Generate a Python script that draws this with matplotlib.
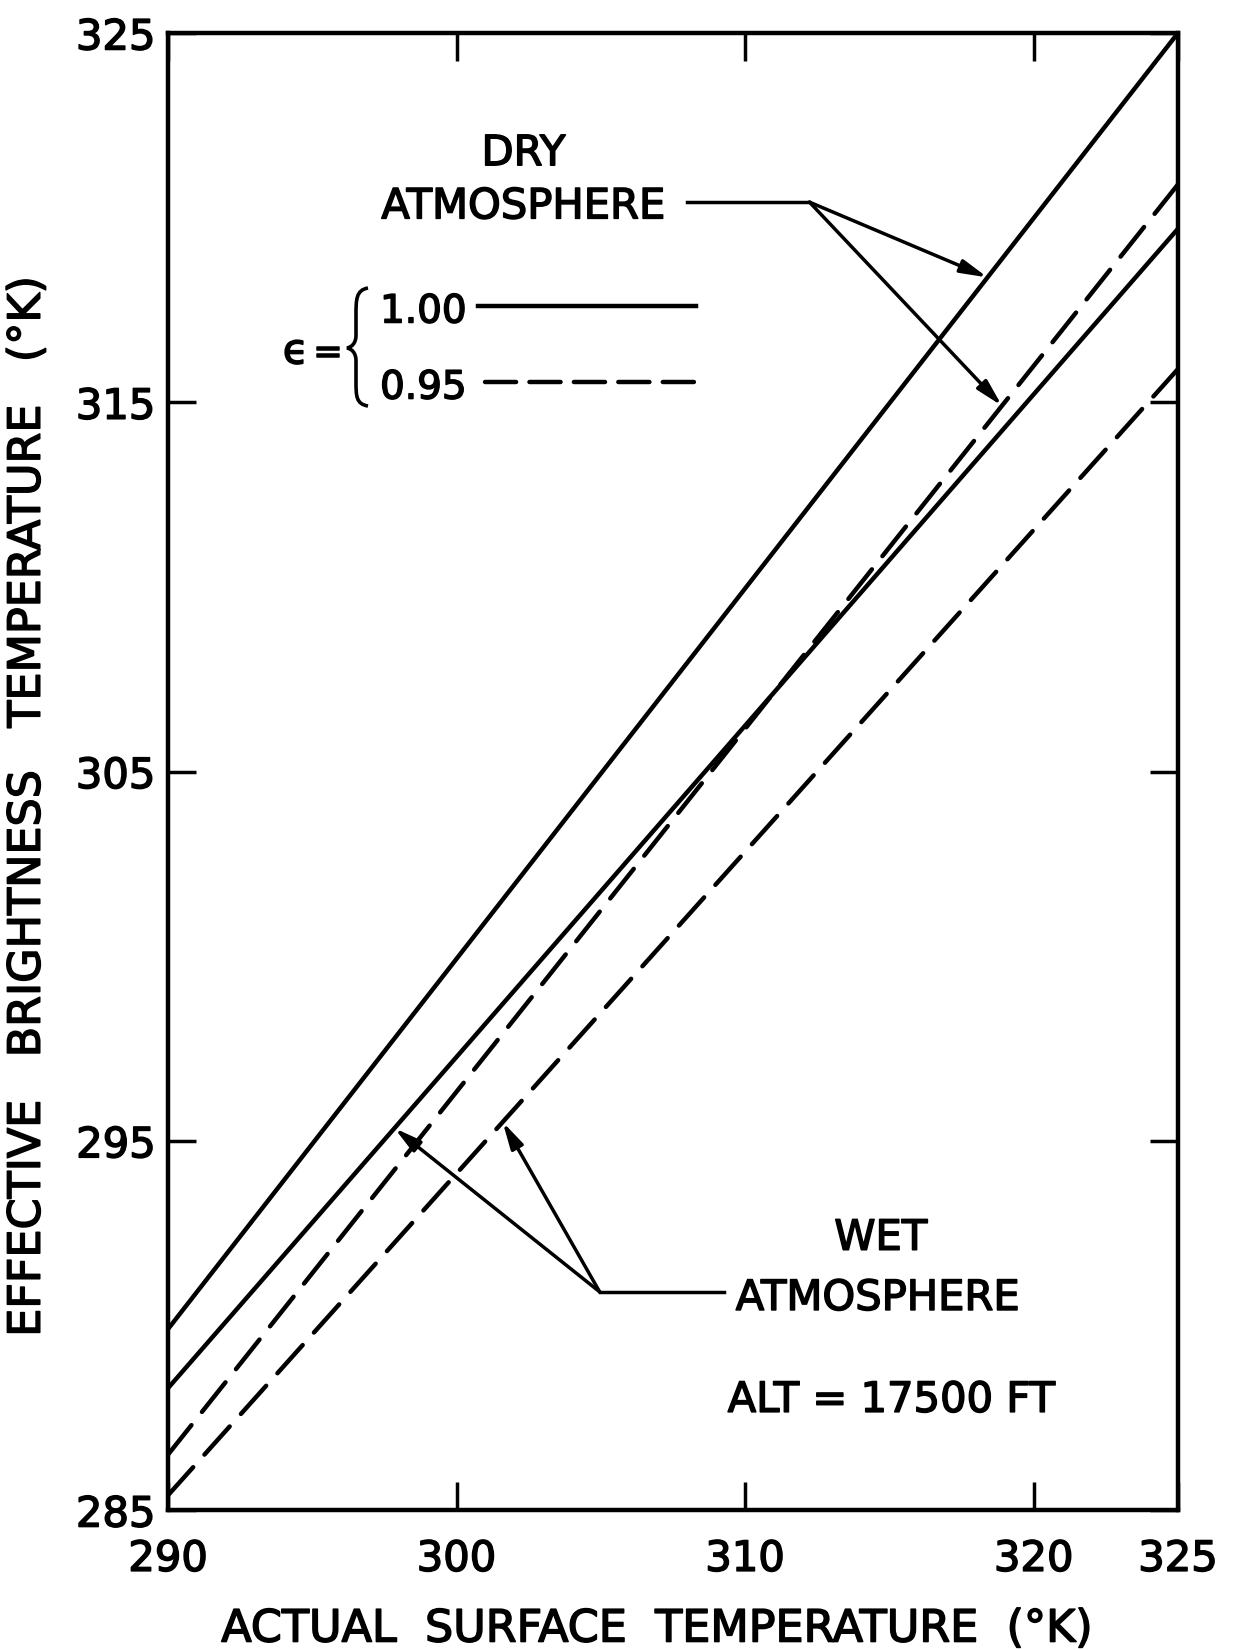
import numpy as np
import matplotlib.pyplot as plt
import matplotlib.patheffects as pe
from matplotlib.path import Path
from matplotlib.patches import PathPatch
from matplotlib.transforms import Affine2D

# Oberflächentemperatur (x) gegen effektive Helligkeitstemperatur (y), ALT = 17500 FT
x_temp = [290, 325]
dry_eps100 = [289.9, 325.0]
dry_eps095 = [286.5, 320.9]
wet_eps100 = [288.3, 319.7]
wet_eps095 = [285.4, 315.9]

x_ticks = [290, 300, 310, 320, 325]
y_ticks = [285, 295, 305, 315, 325]

# x-Werte, an denen die Pfeile die Kurven treffen
dry_arrow_x = [318.4, 318.9]
wet_arrow_x = [297.85, 301.6]

FS = 30
LW = 3.2
DASH = (8.5, 3.8)
# etwas kräftigere Schrift, wie Schablonenschrift
fett = [pe.withStroke(linewidth=1.1, foreground="black")]

fig = plt.figure(figsize=(12.34, 16.5), dpi=100)
ax = fig.add_axes([0.1361, 0.0848, 0.8185, 0.8952])

ax.plot(x_temp, dry_eps100, color="black", lw=LW, solid_capstyle="round")
ax.plot(x_temp, wet_eps100, color="black", lw=LW, solid_capstyle="round")
ax.plot(x_temp, dry_eps095, color="black", lw=LW, dashes=DASH, dash_capstyle="round")
ax.plot(x_temp, wet_eps095, color="black", lw=LW, dashes=DASH, dash_capstyle="round")

ax.set_xlim(290, 325)
ax.set_ylim(285, 325)
ax.set_xticks(x_ticks)
ax.set_yticks(y_ticks)
ax.tick_params(direction="in", length=20, width=2.5, top=True, right=True,
               labelsize=FS, color="black")
ax.tick_params(axis="x", pad=20)
ax.tick_params(axis="y", pad=9)
for lab in ax.get_xticklabels() + ax.get_yticklabels():
    lab.set_path_effects(fett)
for s in ax.spines.values():
    s.set_linewidth(LW)

ax.set_xlabel("ACTUAL  SURFACE  TEMPERATURE  (°K)", fontsize=32, path_effects=fett)
ax.xaxis.set_label_coords(0.485, -0.066)
ax.set_ylabel("EFFECTIVE   BRIGHTNESS   TEMPERATURE   (°K)", fontsize=32,
              path_effects=fett)
ax.yaxis.set_label_coords(-0.118, 0.477)

# Beschriftung trockene Atmosphäre mit Pfeilen
ax.text(302.32, 321.42, "DRY", fontsize=FS, ha="center", va="baseline", path_effects=fett)
ax.text(302.32, 319.98, "ATMOSPHERE", fontsize=FS, ha="center", va="baseline",
        path_effects=fett)
dry_join = (312.23, 320.42)
ax.plot([307.97, dry_join[0]], [dry_join[1], dry_join[1]], color="black", lw=2.5)
arrow = dict(arrowstyle="-|>,head_length=1.6,head_width=0.4", color="black",
             lw=2.5, shrinkA=0, shrinkB=0)
for xa, curve in zip(dry_arrow_x, [dry_eps100, dry_eps095]):
    ax.annotate("", xy=(xa, np.interp(xa, x_temp, curve)), xytext=dry_join,
                arrowprops=arrow)

# Beschriftung feuchte Atmosphäre
ax.text(314.7, 292.05, "WET", fontsize=FS, ha="center", va="baseline", path_effects=fett)
ax.text(314.6, 290.42, "ATMOSPHERE", fontsize=FS, ha="center", va="baseline",
        path_effects=fett)
ax.text(315.06, 287.66, "ALT = 17500 FT", fontsize=FS, ha="center", va="baseline",
        path_effects=fett)
wet_join = (304.96, 290.91)
ax.plot([wet_join[0], 309.28], [wet_join[1], wet_join[1]], color="black", lw=2.5)
for xa, curve in zip(wet_arrow_x, [wet_eps100, wet_eps095]):
    ax.annotate("", xy=(xa, np.interp(xa, x_temp, curve)), xytext=wet_join,
                arrowprops=arrow)

# Legende für Emissionsgrad
ax.text(293.98, 316.05, "ϵ", fontsize=FS, ha="left", va="baseline", path_effects=fett)
ax.text(295.55, 316.05, "=", fontsize=FS - 4, ha="center", va="baseline",
        path_effects=fett)
ax.text(297.35, 317.16, "1.00", fontsize=28, ha="left", va="baseline", path_effects=fett)
ax.text(297.35, 315.10, "0.95", fontsize=28, ha="left", va="baseline", path_effects=fett)
ax.plot([300.75, 308.3], [317.62, 317.62], color="black", lw=LW)
ax.plot([301.0, 308.4], [315.54, 315.54], color="black", lw=LW,
        dashes=(7.0, 3.0), dash_capstyle="round")

# geschweifte Klammer (in Pixeln)
px = Affine2D().scale(0.01, -0.01).translate(0, 16.5) + fig.dpi_scale_trans
verts = [(368, 288), (356, 290), (356, 300), (356, 315),
         (356, 335),
         (356, 343), (352, 347), (347, 348),
         (352, 349), (356, 353), (356, 361),
         (356, 381),
         (356, 396), (356, 404), (368, 406)]
codes = [Path.MOVETO, Path.CURVE4, Path.CURVE4, Path.CURVE4,
         Path.LINETO,
         Path.CURVE4, Path.CURVE4, Path.CURVE4,
         Path.CURVE4, Path.CURVE4, Path.CURVE4,
         Path.LINETO,
         Path.CURVE4, Path.CURVE4, Path.CURVE4]
fig.patches.append(PathPatch(Path(verts, codes), fill=False, lw=2.6,
                             edgecolor="black", transform=px))

plt.savefig("out.png", dpi=100)
